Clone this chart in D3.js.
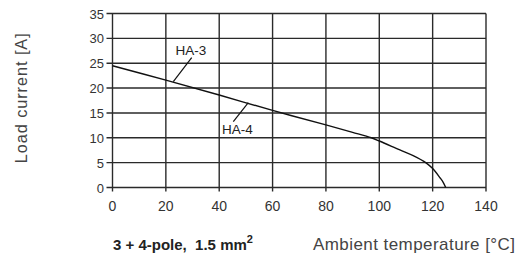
<!DOCTYPE html>
<html>
<head>
<meta charset="utf-8">
<script src="https://cdn.jsdelivr.net/npm/d3@7"></script>
<style>
  body { margin: 0; background: #fff; }
  svg { font-family: "Liberation Sans", Arial, sans-serif; }
</style>
</head>
<body>
<svg id="chart" width="520" height="259"></svg>
<script>
// curve
const temps = [0, 20, 40, 60, 80, 90, 97, 100, 107.5, 112.7, 117.4, 120, 122.7, 123.9, 124.9];
const currents = [24.5, 21.6, 18.6, 15.5, 12.6, 11.1, 10, 9.35, 7.6, 6.4, 5, 3.8, 2.0, 1.1, 0];
const xTicks = [0, 20, 40, 60, 80, 100, 120, 140];
const yTicks = [0, 5, 10, 15, 20, 25, 30, 35];

const svg = d3.select('#chart');
const padLeft = 112.5, padTop = 13.5, width = 373.5, height = 174;

let x = d3.scaleLinear().domain([0, 140]).range([padLeft, padLeft + width]);
let y = d3.scaleLinear().domain([0, 35]).range([padTop + height, padTop]);

const ink = '#2a2a2a';

// grid
let grid = svg.append('g');
grid.selectAll('.vx').data(xTicks).enter().append('line')
  .attr('x1', d => x(d)).attr('x2', d => x(d))
  .attr('y1', padTop).attr('y2', padTop + height + 4)
  .attr('stroke', ink).attr('stroke-width', 1.4);
grid.selectAll('.hy').data(yTicks).enter().append('line')
  .attr('x1', padLeft - 6).attr('x2', padLeft + width)
  .attr('y1', d => y(d)).attr('y2', d => y(d))
  .attr('stroke', ink).attr('stroke-width', 1.4);

// tick labels
svg.append('g').selectAll('text').data(yTicks).enter().append('text')
  .attr('x', padLeft - 8.5).attr('y', d => y(d) + 5)
  .attr('text-anchor', 'end').attr('font-size', 13).attr('fill', '#333')
  .text(d => d);
svg.append('g').selectAll('text').data(xTicks).enter().append('text')
  .attr('x', d => x(d)).attr('y', 210.5)
  .attr('text-anchor', 'middle').attr('font-size', 14).attr('fill', '#333')
  .text(d => d);

// the curve
let line = d3.line()
  .x((d, i) => x(temps[i]))
  .y(d => y(d))
  .curve(d3.curveCatmullRom.alpha(0.5));
svg.append('path').datum(currents)
  .attr('d', line)
  .attr('fill', 'none').attr('stroke', '#111').attr('stroke-width', 1.4);

// labels with leader lines
svg.append('line').attr('x1', 191.7).attr('y1', 57.7).attr('x2', 173.3).attr('y2', 81.7)
  .attr('stroke', '#111').attr('stroke-width', 1.2);
svg.append('text').attr('x', 191).attr('y', 55).attr('text-anchor', 'middle')
  .attr('font-size', 13.5).attr('fill', '#222').text('HA-3');
svg.append('line').attr('x1', 233.3).attr('y1', 121.7).attr('x2', 248.3).attr('y2', 102.7)
  .attr('stroke', '#111').attr('stroke-width', 1.2);
svg.append('text').attr('x', 237.5).attr('y', 134).attr('text-anchor', 'middle')
  .attr('font-size', 13.5).attr('fill', '#222').text('HA-4');

// axis titles
svg.append('text')
  .attr('transform', 'translate(26.7,98.3)rotate(-90)')
  .attr('text-anchor', 'middle').attr('font-size', 16.3).attr('fill', '#444')
  .attr('textLength', 130).attr('lengthAdjust', 'spacing')
  .text('Load current [A]');

let foot = svg.append('text').attr('x', 113).attr('y', 249.5).attr('fill', '#222')
  .style('white-space', 'pre');
foot.append('tspan').attr('font-size', 15).attr('font-weight', 'bold').text('3 + 4-pole,  1.5 mm');
foot.append('tspan').attr('font-size', 11).attr('font-weight', 'bold').attr('dy', -7).text('2');
svg.append('text').attr('x', 313).attr('y', 249.5).attr('font-size', 17).attr('fill', '#444')
  .attr('textLength', 202).attr('lengthAdjust', 'spacing')
  .text('Ambient temperature [°C]');
</script>
</body>
</html>
